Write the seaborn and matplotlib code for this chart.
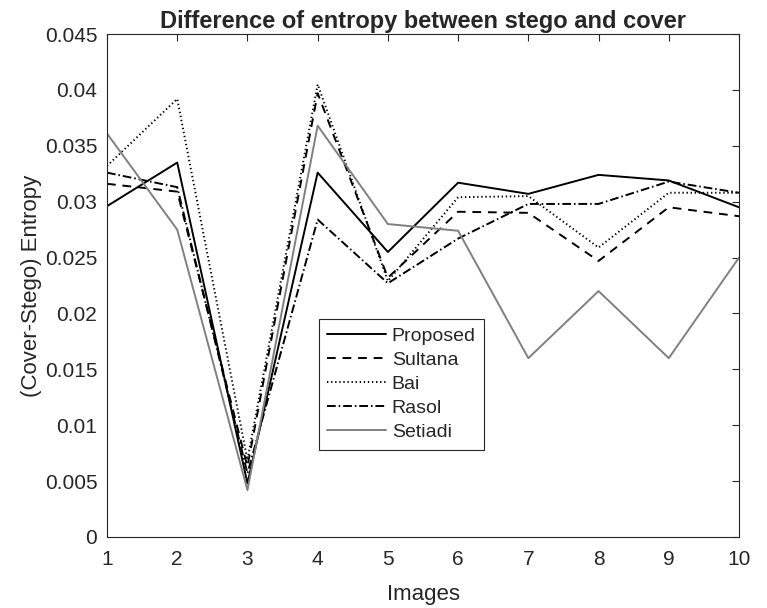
import pandas as pd
import matplotlib
matplotlib.use("Agg")
import matplotlib.pyplot as plt
import seaborn as sns

images = [1, 2, 3, 4, 5, 6, 7, 8, 9, 10]
methods = ["Proposed", "Sultana", "Bai", "Rasol", "Setiadi"]

proposed = [0.0296, 0.0335, 0.0048, 0.0326, 0.0255, 0.0317, 0.0307, 0.0324, 0.0319, 0.0295]
sultana = [0.0316, 0.0309, 0.0063, 0.0397, 0.0232, 0.0291, 0.0290, 0.0247, 0.0295, 0.0287]
bai = [0.0332, 0.0392, 0.0069, 0.0405, 0.0229, 0.0304, 0.0305, 0.0259, 0.0308, 0.0308]
rasol = [0.0326, 0.0313, 0.0057, 0.0284, 0.0227, 0.0267, 0.0298, 0.0298, 0.0318, 0.0308]
setiadi = [0.0361, 0.0275, 0.0042, 0.0368, 0.0280, 0.0274, 0.0160, 0.0220, 0.0160, 0.0250]

series = [proposed, sultana, bai, rasol, setiadi]
rows = []
for name, vals in zip(methods, series):
    for img, v in zip(images, vals):
        rows.append({"Images": img, "Entropy": v, "Method": name})
df = pd.DataFrame(rows)

sns.set_style("white")
plt.rcParams["font.family"] = ["Liberation Sans", "DejaVu Sans"]

palette = {"Proposed": "black", "Sultana": "black", "Bai": "black",
           "Rasol": "black", "Setiadi": "#808080"}
dashes = {"Proposed": "", "Sultana": (4.5, 3.5), "Bai": (0.7, 1.4),
          "Rasol": (4.5, 1.5, 0.8, 1.5), "Setiadi": ""}

fig = plt.figure(figsize=(7.67, 6.08), dpi=100)
ax = fig.add_axes([0.1395, 0.1168, 0.824, 0.8272])
sns.lineplot(data=df, x="Images", y="Entropy", hue="Method", style="Method",
             palette=palette, dashes=dashes, linewidth=1.4, ax=ax)

ax.set_xlim(1, 10)
ax.set_ylim(0, 0.045)
ax.set_xticks(images)
yt = [0, 0.005, 0.01, 0.015, 0.02, 0.025, 0.03, 0.035, 0.04, 0.045]
ax.set_yticks(yt)
ax.set_yticklabels(["0", "0.005", "0.01", "0.015", "0.02", "0.025", "0.03",
                    "0.035", "0.04", "0.045"])
ax.tick_params(direction="in", length=5, width=0.8, top=True, right=True,
               labelsize=15, colors="#262626", pad=7)
ax.tick_params(axis="x", pad=9.5)
for s in ax.spines.values():
    s.set_color("#262626")
    s.set_linewidth(0.8)
ax.set_xlabel("Images", fontsize=16, color="#262626", labelpad=11)
ax.set_ylabel("(Cover-Stego) Entropy", fontsize=16, color="#262626", labelpad=2)
ax.set_title("Difference of entropy between stego and cover", fontsize=17,
             fontweight="bold", pad=4)

leg = ax.legend(loc="lower left", bbox_to_anchor=(0.335, 0.173), fontsize=14,
                frameon=True, fancybox=False, framealpha=1, edgecolor="#262626",
                handlelength=3.0, handletextpad=0.3, borderpad=0.45,
                labelspacing=0.33, borderaxespad=0)
leg.get_frame().set_linewidth(0.8)

fig.savefig("out.png", dpi=100)
